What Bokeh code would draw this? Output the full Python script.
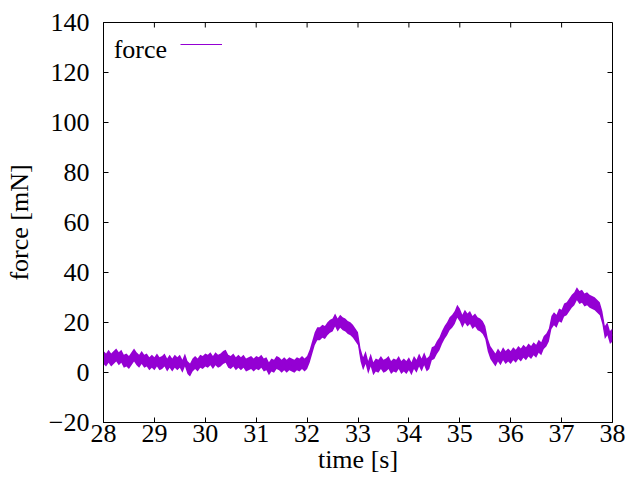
from bokeh.plotting import figure
from bokeh.models import Range1d, FixedTicker, Legend, LegendItem, Label
from bokeh.embed import file_html
from bokeh.resources import INLINE

time_s = [28.0 + 0.05 * i for i in range(201)]
force_mN = [
    6, 5, 6.5, 5, 6, 7, 5.5, 6.5, 4.5, 5, 4, 5.5, 7, 5.5, 4.5, 6, 4.5, 5, 3.5, 4.5,                    # 28.00-28.95
    3.5, 5, 3.5, 4, 5, 3, 4.5, 3, 4.5, 3.5, 4.5, 2.5, 5, 2, 1, 3, 4, 3, 4.5, 4,                        # 29.00-29.95
    5, 4.5, 5.5, 4, 5.5, 4.5, 5, 6, 6.5, 4.5, 4, 5, 3.5, 4.5, 3.5, 4.5, 3, 3.5, 4, 3,                  # 30.00-30.95
    4, 3.5, 4.5, 3, 3.5, 1.5, 3, 2.5, 4, 3.5, 2.5, 3.5, 2.5, 3.5, 3, 2.5, 3.5, 3, 4, 3,                # 31.00-31.95
    4, 6.5, 10, 13.5, 15.5, 15.5, 16.5, 16, 17.5, 18.5, 19, 21, 19, 20.5, 19.5, 19, 18, 17.5, 16.5, 15,  # 32.00-32.95
    13.5, 7, 3.5, 6, 2, 5, 1.5, 3, 2.5, 4, 2.5, 3, 4, 2, 3, 2.5, 4, 2, 3, 2,                           # 33.00-33.95
    3.5, 1.5, 4, 2.5, 5, 3, 5.5, 3, 4, 7.5, 8, 10, 11.5, 14, 16, 17.5, 19.5, 20.5, 22, 24.5,           # 34.00-34.95
    23, 20.5, 22.5, 21, 22, 20, 21, 19.5, 19, 18, 16, 11, 8, 6.5, 5, 7, 5.5, 7.5, 6, 7,                # 35.00-35.95
    6, 7.5, 6.5, 8, 7, 8.5, 7.5, 9, 8, 9.5, 8.5, 10.5, 9.5, 12, 13, 15, 20, 21.5, 20.5, 23,            # 36.00-36.95
    22.5, 25, 25.5, 27, 28.5, 29.5, 31.5, 30, 30.5, 29, 29.5, 28.5, 28, 27.5, 26.5, 25.5, 22, 16, 17.5, 14,  # 37.00-37.95
    15,                                                                                                # 38.00
]
band_half = 2.6  # half thickness of the noisy band, mN

x_ticks = [28, 29, 30, 31, 32, 33, 34, 35, 36, 37, 38]
y_ticks = [-20, 0, 20, 40, 60, 80, 100, 120, 140]

X0, X1, Y0, Y1 = 28, 38, -20, 140

lower = [v - band_half for v in force_mN]
upper = [v + band_half for v in force_mN]

FONT = "Liberation Serif"
FS = "26px"
COLOR = "#9400d3"

W, H = 626, 481
BL, BR, BT, BB = 103, 14, 22, 59
frame_w, frame_h = W - BL - BR, H - BT - BB
TICK = 5  # px

p = figure(width=W, height=H, output_backend="svg", toolbar_location=None,
           x_range=Range1d(X0, X1), y_range=Range1d(Y0, Y1),
           min_border_left=BL, min_border_right=BR, min_border_top=BT, min_border_bottom=BB)
p.grid.visible = False
p.outline_line_color = "black"
p.outline_line_width = 1
p.background_fill_color = "white"
p.border_fill_color = "white"

area = p.varea(x=time_s, y1=lower, y2=upper, fill_color=COLOR)
line = p.line(x=time_s, y=force_mN, line_color=COLOR, line_width=1)

for ax in p.xaxis + p.yaxis:
    ax.major_label_text_font = FONT
    ax.major_label_text_font_size = FS
    ax.axis_label_text_font = FONT
    ax.axis_label_text_font_size = FS
    ax.axis_label_text_font_style = "normal"
    ax.major_tick_in = TICK
    ax.major_tick_out = 0
    ax.minor_tick_in = 0
    ax.minor_tick_out = 0
    ax.axis_line_color = "black"
    ax.major_label_text_color = "black"
    ax.axis_label_text_color = "black"

p.xaxis.ticker = FixedTicker(ticks=x_ticks)
p.yaxis.ticker = FixedTicker(ticks=y_ticks)
p.xaxis.axis_label = "time [s]"
p.yaxis.axis_label = "force [mN]"
p.xaxis.major_label_standoff = 2
p.xaxis.axis_label_standoff = 0
p.yaxis.major_label_standoff = 14
p.yaxis.axis_label_standoff = 12

# mirrored inward ticks on top and right (gnuplot style)
dy = TICK * (Y1 - Y0) / frame_h
dx = TICK * (X1 - X0) / frame_w
p.segment(x0=x_ticks, x1=x_ticks, y0=[Y1] * len(x_ticks), y1=[Y1 - dy] * len(x_ticks),
          line_color="black", line_width=1)
p.segment(x0=[X1] * len(y_ticks), x1=[X1 - dx] * len(y_ticks), y0=y_ticks, y1=y_ticks,
          line_color="black", line_width=1)

# legend: text "force" followed by the line sample (gnuplot style)
p.add_layout(Label(x=28.2, y=129.2, text="force", text_font=FONT, text_font_size=FS,
                   text_baseline="alphabetic", text_color="black"))
legend = Legend(items=[LegendItem(label=" ", renderers=[line])],
                location=(77, 373), padding=0, margin=0, spacing=0,
                glyph_width=42, glyph_height=10, label_width=0, label_height=0,
                label_standoff=0, label_text_font_size="1px",
                border_line_color=None, background_fill_alpha=0)
p.add_layout(legend, "center")

open("out.html", "w").write(file_html(p, INLINE))
